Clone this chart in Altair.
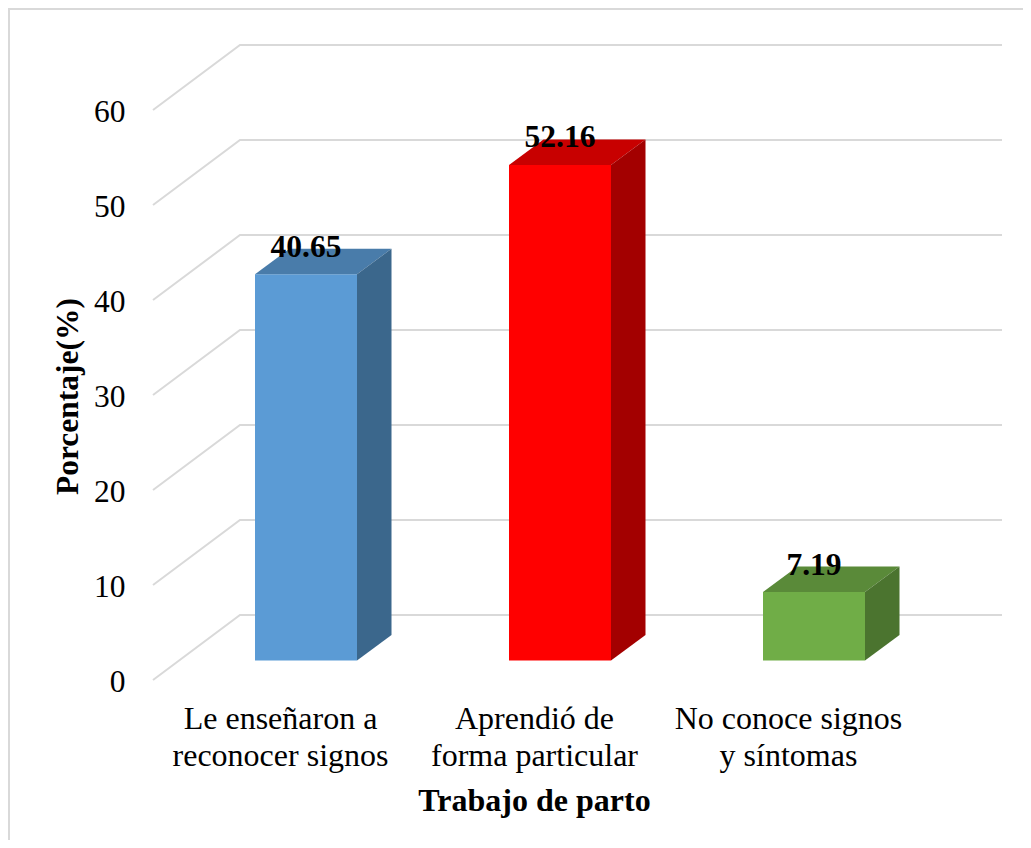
import altair as alt
import pandas as pd

categories = ["Le enseñaron a|reconocer signos", "Aprendió de|forma particular", "No conoce signos|y síntomas"]
values = [40.65, 52.16, 7.19]
front_colors = ["#5b9bd5", "#ff0000", "#70ad47"]
top_colors = ["#497caa", "#c80000", "#5a8a39"]
side_colors = ["#3b678c", "#a30000", "#4b742f"]
ticks = [0, 10, 20, 30, 40, 50, 60]

SERIF = "Liberation Serif"
GRID = "#d9d9d9"
# geometry of the pseudo-3D box, in data units
PX_X, PX_Y = 254.0, 9.5
WALL_X, WALL_Y = 87 / PX_X, 65 / PX_Y
BAR_X0, BAR_W = 102 / PX_X, 102 / PX_X
BAR_BASE = 19.6 / PX_Y
DEPTH_X, DEPTH_Y = 34.5 / PX_X, 25.5 / PX_Y
W, H = 849, 635
xs = alt.Scale(domain=[0, W / PX_X], range=[0, W], nice=False, zero=False)
ys = alt.Scale(domain=[0, H / PX_Y], range=[H, 0], nice=False, zero=False)

grid = pd.DataFrame([
    {"t": t, "o": o, "x": x, "y": t + dy}
    for t in ticks
    for o, (x, dy) in enumerate([(0, 0), (WALL_X, WALL_Y), (W / PX_X, WALL_Y)])
])
front, tops, sides = [], [], []
for i, v in enumerate(values):
    l = i + BAR_X0
    r = l + BAR_W
    b = BAR_BASE
    t = BAR_BASE + v
    front.append({"k": str(i), "l": l, "r": r, "b": b, "t": t})
    tops += [
        {"k": str(i), "y": t, "x": l, "x2": r},
        {"k": str(i), "y": t + DEPTH_Y, "x": l + DEPTH_X, "x2": r + DEPTH_X},
    ]
    sides += [
        {"k": str(i), "x": r, "y": t, "y2": b},
        {"k": str(i), "x": r + DEPTH_X, "y": t + DEPTH_Y, "y2": b + DEPTH_Y},
    ]
labels = pd.DataFrame({
    "x": [i + BAR_X0 + BAR_W / 2 for i in range(3)],
    "y": [v + BAR_BASE + DEPTH_Y for v in values],
    "s": [f"{v:.2f}" for v in values],
})
keys = ["0", "1", "2"]


def col(rng):
    return alt.Color("k:N", scale=alt.Scale(domain=keys, range=rng), legend=None)


label_list = "[" + ",".join("'" + c + "'" for c in categories) + "]"
x_axis = alt.Axis(
    values=[0.5, 1.5, 2.5], labelExpr=f"split({label_list}[floor(datum.value)], '|')",
    domain=False, ticks=False, grid=False, labelFont=SERIF, labelFontSize=32, labelColor="#000000",
    labelLineHeight=37, labelPadding=23.5, labelOverlap=False, labelFlush=False, labelBound=False,
    labelLimit=400,
    title="Trabajo de parto", titleFont=SERIF, titleFontSize=32, titleFontWeight="bold",
    titleColor="#000000", titleX=381, titleY=120, titleBaseline="middle",
)
y_axis = alt.Axis(
    values=ticks, domain=False, ticks=False, grid=False, labelFont=SERIF, labelFontSize=31.5,
    labelColor="#000000", labelPadding=28, labelOverlap=False, labelFlush=False, labelBound=False,
    labelOffset=2.5,
    title="Porcentaje(%)", titleFont=SERIF, titleFontSize=31.5, titleFontWeight="bold",
    titleColor="#000000", titleX=-85, titleY=351, titleBaseline="middle",
)

grid_layer = alt.Chart(grid).mark_line(color=GRID, strokeWidth=2, clip=False).encode(
    x=alt.X("x:Q", scale=xs, axis=x_axis),
    y=alt.Y("y:Q", scale=ys, axis=y_axis),
    detail="t:N", order="o:Q",
)
front_layer = alt.Chart(pd.DataFrame(front)).mark_rect(clip=False).encode(
    x=alt.X("l:Q", scale=xs, axis=x_axis), x2="r:Q",
    y=alt.Y("b:Q", scale=ys, axis=y_axis), y2="t:Q",
    color=col(front_colors),
)
top_layer = alt.Chart(pd.DataFrame(tops)).mark_area(orient="horizontal", clip=False).encode(
    y=alt.Y("y:Q", scale=ys, axis=y_axis),
    x=alt.X("x:Q", scale=xs, axis=x_axis), x2="x2:Q",
    color=col(top_colors),
)
side_layer = alt.Chart(pd.DataFrame(sides)).mark_area(orient="vertical", clip=False).encode(
    x=alt.X("x:Q", scale=xs, axis=x_axis),
    y=alt.Y("y:Q", scale=ys, axis=y_axis), y2="y2:Q",
    color=col(side_colors),
)
text_layer = alt.Chart(labels).mark_text(
    font=SERIF, fontSize=31.5, fontWeight="bold", color="#000000", align="center", baseline="middle", dy=-1
).encode(
    x=alt.X("x:Q", scale=xs, axis=x_axis),
    y=alt.Y("y:Q", scale=ys, axis=y_axis),
    text="s:N",
)
frame_left = alt.Chart(pd.DataFrame({"a": [0]})).mark_rule(color=GRID, strokeWidth=2).encode(
    x=alt.value(-144), y=alt.value(-37), y2=alt.value(795)
)
frame_top = alt.Chart(pd.DataFrame({"a": [0]})).mark_rule(color=GRID, strokeWidth=2).encode(
    y=alt.value(-36), x=alt.value(-145), x2=alt.value(870)
)

chart = alt.layer(
    frame_left, frame_top, grid_layer, front_layer, top_layer, side_layer, text_layer
).resolve_scale(color="independent").properties(
    width=W, height=H,
    autosize=alt.AutoSizeParams(type="none"),
    padding={"left": 145, "top": 37, "right": 21, "bottom": 160},
    background="#ffffff",
).configure_view(stroke=None)

chart.save("out.html", embed_options={"renderer": "svg", "actions": False})
